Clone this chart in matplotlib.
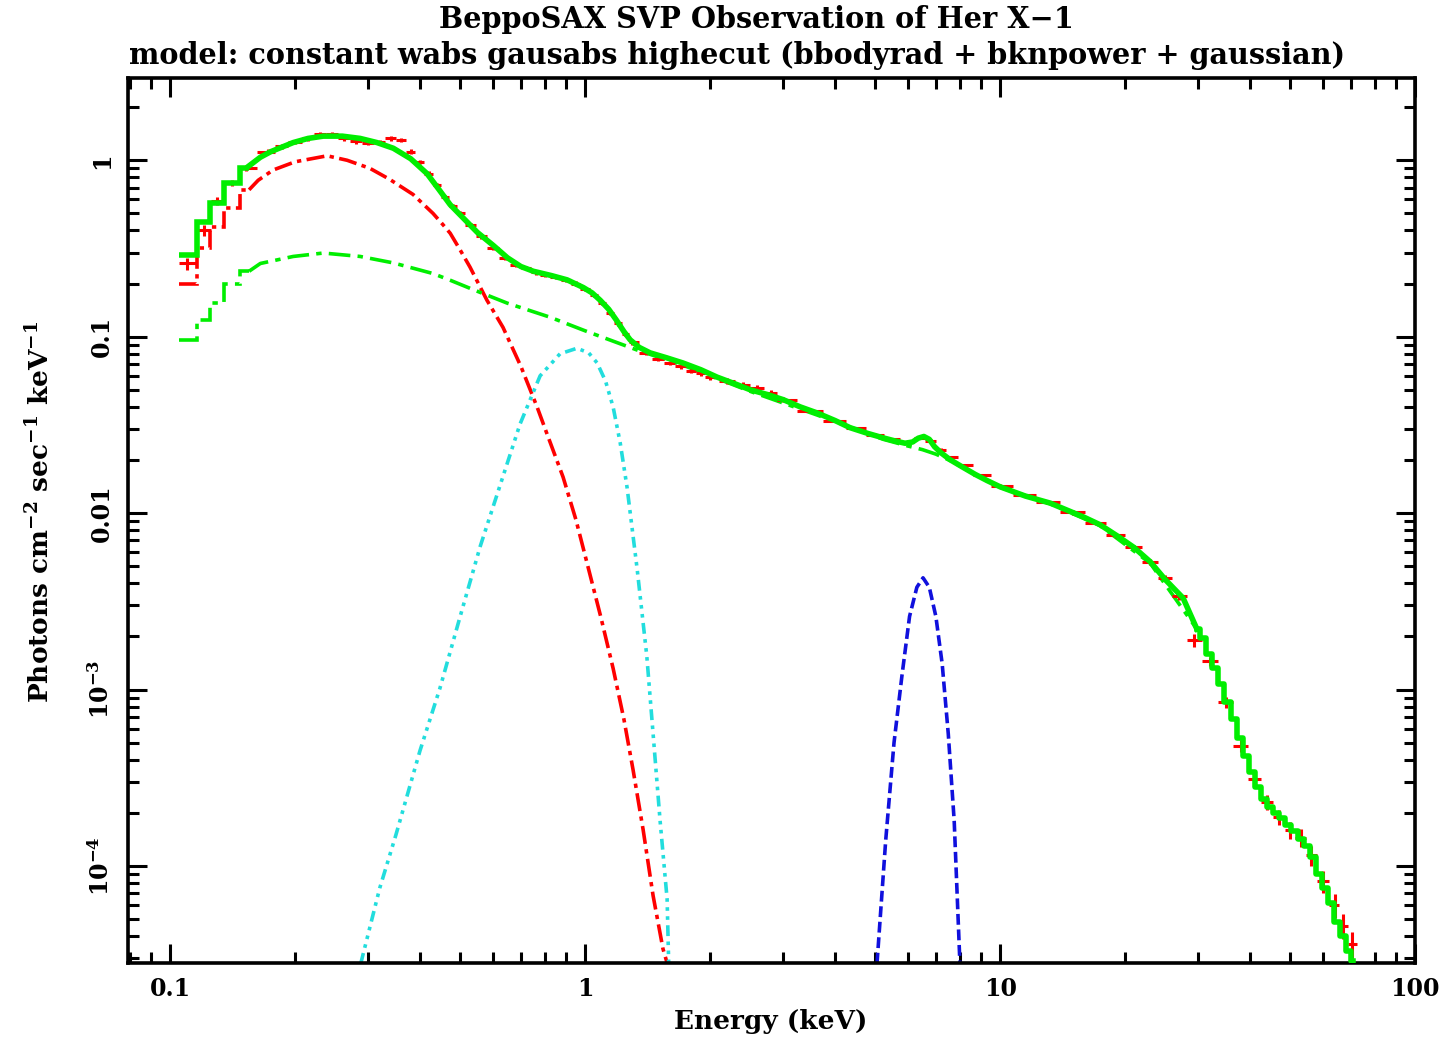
"""Recreate the XSPEC unfolded spectrum plot of Her X-1 (BeppoSAX SVP)."""
import numpy as np
import matplotlib
matplotlib.use("Agg")  # headless
import matplotlib.pyplot as plt
from matplotlib.ticker import FixedLocator, FixedFormatter, LogLocator, NullFormatter

# ──────────────────────────────────────────────────────────────────────────────
# Values (keV, photons cm^-2 s^-1 keV^-1)
# ──────────────────────────────────────────────────────────────────────────────

# coarse low-energy (LECS) bins, drawn as histogram steps
lecs_edges = [0.105, 0.116, 0.125, 0.135, 0.147, 0.155]
model_lecs = [0.29, 0.445, 0.57, 0.74, 0.90]
bb_lecs = [0.20, 0.317, 0.42, 0.535, 0.68]
pl_lecs = [0.096, 0.124, 0.155, 0.20, 0.235]

# total model (green, solid), finely binned middle part
model_e = [0.155, 0.165, 0.175, 0.198, 0.215, 0.234, 0.26, 0.287, 0.315, 0.345,
           0.38, 0.416, 0.445, 0.473, 0.50, 0.55, 0.60, 0.65, 0.70, 0.75,
           0.83, 0.905, 0.99, 1.04, 1.087, 1.14, 1.19, 1.24, 1.284, 1.35,
           1.434, 1.57, 1.72, 1.9, 2.08, 2.3, 2.5, 2.75, 3.0, 3.3,
           3.62, 4.0, 4.35, 4.8, 5.23, 5.6, 5.9, 6.15, 6.35, 6.55,
           6.75, 6.95, 7.2, 7.57, 8.1, 8.7, 9.3, 10.0, 11.5, 13.2,
           15.9, 17.4, 19.2, 21.0, 23.0, 25.0, 27.6, 29.8]
model_f = [0.93, 1.04, 1.12, 1.26, 1.33, 1.37, 1.37, 1.33, 1.26, 1.17,
           1.02, 0.84, 0.68, 0.56, 0.49, 0.39, 0.33, 0.28, 0.25, 0.235,
           0.222, 0.21, 0.19, 0.177, 0.161, 0.143, 0.124, 0.107, 0.096, 0.087,
           0.081, 0.076, 0.071, 0.065, 0.059, 0.054, 0.050, 0.047, 0.044, 0.040,
           0.037, 0.0335, 0.0305, 0.0283, 0.0267, 0.0256, 0.0249, 0.0253, 0.0266, 0.0272,
           0.0262, 0.0238, 0.0220, 0.0201, 0.0183, 0.0166, 0.0153, 0.0141, 0.0125, 0.0114,
           0.0095, 0.0086, 0.0074, 0.0064, 0.0053, 0.0042, 0.0033, 0.0022]

# total model in the PDS band (drawn as steps)
pds_e = [29.8, 30.8, 31.9, 33.0, 34.1, 35.3, 36.5, 37.8, 39.1, 40.4,
         41.8, 43.2, 44.7, 46.2, 47.8, 49.5, 51.2, 53.0, 54.8, 56.7,
         58.6, 60.6, 62.7, 64.9, 67.1, 69.4, 71.0]
pds_f = [0.00220, 0.00195, 0.00160, 0.00133, 0.00108, 0.00085, 0.00068, 0.00053, 0.00042, 0.00034,
         0.00028, 0.00024, 0.000215, 0.000200, 0.000188, 0.000170, 0.000157, 0.000143, 0.000130, 0.000112,
         0.000090, 0.000075, 0.000062, 0.000048, 0.000040, 0.000033, 0.000029]

# bbodyrad component (red, dashed)
bb_e = [0.155, 0.163, 0.177, 0.200, 0.239, 0.267, 0.303, 0.338, 0.385, 0.43,
        0.455, 0.473, 0.50, 0.528, 0.58, 0.634, 0.70, 0.766, 0.81, 0.885,
        0.95, 1.011, 1.09, 1.168, 1.24, 1.305, 1.38, 1.458, 1.54, 1.60]
bb_f = [0.68, 0.77, 0.88, 0.98, 1.06, 1.00, 0.90, 0.78, 0.64, 0.50,
        0.43, 0.386, 0.31, 0.248, 0.161, 0.113, 0.068, 0.040, 0.028, 0.0160,
        0.0092, 0.0052, 0.0026, 0.00132, 0.00068, 0.00035, 0.00016, 0.000068, 0.000034, 0.000025]

# bknpower component (green, dash-dot)
pl_e = [0.155, 0.165, 0.198, 0.234, 0.287, 0.345, 0.43, 0.473, 0.537, 0.649,
        0.823, 1.0, 1.335, 1.72, 2.5, 3.62, 5.23, 6.0, 6.5, 7.0,
        7.57, 8.7, 10.0, 13.2, 17.4, 23.0, 29.8]
pl_f = [0.235, 0.26, 0.285, 0.298, 0.285, 0.262, 0.228, 0.209, 0.185, 0.155,
        0.129, 0.108, 0.084, 0.069, 0.049, 0.036, 0.0262, 0.0240, 0.0229, 0.0216,
        0.0199, 0.0166, 0.0140, 0.0113, 0.0085, 0.0052, 0.0022]

# 1 keV line (cyan, dash-dot-dot-dot)
g1_e = [0.288, 0.32, 0.35, 0.40, 0.447, 0.50, 0.559, 0.624, 0.697, 0.779,
        0.87, 0.956, 1.02, 1.069, 1.12, 1.168, 1.215, 1.262, 1.335, 1.408,
        1.461, 1.516, 1.576, 1.59]
g1_f = [2.8e-5, 7.5e-5, 1.5e-4, 4.5e-4, 1.02e-3, 2.6e-3, 6.5e-3, 0.0144, 0.032, 0.060,
        0.080, 0.086, 0.081, 0.071, 0.056, 0.040, 0.025, 0.014, 0.0048, 0.00155,
        5.3e-4, 1.8e-4, 6.5e-5, 2.8e-5]

# iron line (blue, dashed)
fe_e = [5.05, 5.3, 5.55, 5.8, 6.05, 6.3, 6.52, 6.75, 7.0, 7.25, 7.5, 7.75, 8.0]
fe_f = [2.8e-5, 1.4e-4, 5.0e-4, 1.2e-3, 2.6e-3, 3.8e-3, 4.3e-3, 3.8e-3, 2.6e-3, 1.4e-3,
        5.6e-4, 1.8e-4, 2.8e-5]

# unfolded data (red crosses)
data_e = [0.110, 0.121, 0.130, 0.141, 0.152, 0.172, 0.186, 0.200, 0.215, 0.230,
          0.245, 0.262, 0.280, 0.300, 0.320, 0.340, 0.360, 0.380, 0.400, 0.420,
          0.440, 0.460, 0.480, 0.500, 0.530, 0.560, 0.600, 0.640, 0.680, 0.720,
          0.760, 0.800, 0.850, 0.900, 0.950, 1.00, 1.05, 1.10, 1.15, 1.20,
          1.25, 1.30, 1.40, 1.50, 1.60, 1.70, 1.80, 1.90, 2.00, 2.20,
          2.40, 2.60, 2.80, 3.00, 3.50, 4.00, 4.50, 5.00, 5.50, 6.00,
          6.40, 6.80, 7.20, 7.60, 8.20, 9.00, 10.0, 11.5, 13.0, 15.0,
          17.0, 19.0, 21.0, 23.0, 25.0, 27.0, 29.3, 32.0, 35.0, 38.0,
          41.0, 44.0, 47.0, 50.0, 53.0, 56.0, 60.0, 64.0, 67.0, 70.5]
data_f = [0.26, 0.40, 0.59, 0.74, 0.90, 1.12, 1.20, 1.27, 1.33, 1.41,
          1.40, 1.33, 1.28, 1.25, 1.27, 1.33, 1.30, 1.12, 0.98, 0.84,
          0.72, 0.62, 0.55, 0.50, 0.43, 0.37, 0.32, 0.28, 0.255, 0.245,
          0.232, 0.225, 0.218, 0.210, 0.200, 0.186, 0.172, 0.155, 0.136, 0.119,
          0.104, 0.093, 0.081, 0.075, 0.071, 0.068, 0.064, 0.062, 0.059, 0.056,
          0.053, 0.051, 0.048, 0.044, 0.038, 0.0335, 0.0302, 0.0278, 0.0262, 0.0254,
          0.0268, 0.0258, 0.0228, 0.0207, 0.0187, 0.0164, 0.0143, 0.0126, 0.0115, 0.0101,
          0.0088, 0.0075, 0.0064, 0.0053, 0.0043, 0.0034, 0.0019, 0.00145, 0.00085, 0.00048,
          0.00031, 0.00023, 0.00019, 0.000160, 0.000145, 0.000115, 0.000082, 0.000060, 0.000046, 0.000036]
data_relerr = [0.08, 0.07, 0.05, 0.04, 0.04, 0.03, 0.03, 0.03, 0.03, 0.03,
               0.03, 0.03, 0.03, 0.03, 0.03, 0.03, 0.03, 0.03, 0.03, 0.03,
               0.03, 0.03, 0.03, 0.03, 0.03, 0.03, 0.03, 0.03, 0.03, 0.03,
               0.03, 0.03, 0.03, 0.03, 0.03, 0.03, 0.03, 0.03, 0.03, 0.03,
               0.03, 0.03, 0.03, 0.03, 0.03, 0.03, 0.03, 0.03, 0.04, 0.04,
               0.04, 0.04, 0.04, 0.03, 0.02, 0.02, 0.02, 0.02, 0.02, 0.02,
               0.02, 0.02, 0.02, 0.02, 0.02, 0.02, 0.02, 0.02, 0.02, 0.03,
               0.03, 0.03, 0.03, 0.04, 0.04, 0.05, 0.08, 0.06, 0.07, 0.08,
               0.09, 0.10, 0.10, 0.11, 0.12, 0.13, 0.14, 0.15, 0.16, 0.18]

x_ticks = [0.1, 1, 10, 100]
x_labels = ["0.1", "1", "10", "100"]
y_ticks = [1e-4, 1e-3, 1e-2, 1e-1, 1]
y_labels = [r"$10^{-4}$", r"$10^{-3}$", "0.01", "0.1", "1"]

TITLE_1 = "BeppoSAX SVP Observation of Her X\u22121"
TITLE_2 = "model: constant wabs gausabs highecut (bbodyrad + bknpower + gaussian)"

RED = "red"
GREEN = "#00ee00"
CYAN = "#22dddd"
BLUE = "#1010dd"


# ──────────────────────────────────────────────────────────────────────────────
# Helpers
# ──────────────────────────────────────────────────────────────────────────────

def _half_bins(e):
    e = np.asarray(e)
    edges = np.sqrt(e[:-1] * e[1:])
    lo = np.concatenate([[e[0] ** 2 / edges[0]], edges])
    hi = np.concatenate([edges, [e[-1] ** 2 / edges[-1]]])
    return e - lo, hi - e


# ──────────────────────────────────────────────────────────────────────────────
# Plot
# ──────────────────────────────────────────────────────────────────────────────

plt.rcParams["font.family"] = "DejaVu Serif"
plt.rcParams["font.weight"] = "bold"
plt.rcParams["mathtext.fontset"] = "dejavuserif"
plt.rcParams["mathtext.default"] = "bf"

fig = plt.figure(figsize=(14.47, 10.42), dpi=100)
ax = fig.add_axes([0.0885, 0.0758, 0.8895, 0.8492])
ax.set_xscale("log")
ax.set_yscale("log")

# bbodyrad
bb_style = dict(color=RED, lw=2.6, ls=(0, (5, 1.5, 1.2, 1.5)), zorder=2)
ax.stairs(bb_lecs, lecs_edges, baseline=None, **bb_style)
ax.plot(bb_e, bb_f, **bb_style)

# bknpower
pl_style = dict(color=GREEN, lw=2.6, ls=(0, (6, 2, 1.5, 2)), zorder=2)
ax.stairs(pl_lecs, lecs_edges, baseline=None, **pl_style)
ax.plot(pl_e, pl_f, **pl_style)

# lines
ax.plot(g1_e, g1_f, color=CYAN, lw=2.6,
        ls=(0, (3, 1.5, 1, 1.5, 1, 1.5, 1, 1.5)), zorder=2)
ax.plot(fe_e, fe_f, color=BLUE, lw=2.6, ls=(0, (3, 1.3)), zorder=2)

# data
de = np.asarray(data_e)
df = np.asarray(data_f)
xlo, xhi = _half_bins(de)
yerr = df * np.asarray(data_relerr)
ax.errorbar(de, df, xerr=[xlo, xhi], yerr=yerr, fmt="none",
            ecolor=RED, elinewidth=2.2, capsize=0, zorder=3)

# total model on top
tot_style = dict(color=GREEN, lw=4.0, zorder=4)
ax.stairs(model_lecs, lecs_edges, baseline=None, **tot_style)
ax.plot(model_e, model_f, solid_joinstyle="round", **tot_style)
ax.plot(pds_e, pds_f, drawstyle="steps-mid", **tot_style)

ax.set_xlim(0.0792, 100)
ax.set_ylim(2.82e-5, 2.92)

ax.xaxis.set_major_locator(FixedLocator(x_ticks))
ax.xaxis.set_major_formatter(FixedFormatter(x_labels))
ax.xaxis.set_minor_locator(LogLocator(base=10, subs=np.arange(2, 10)))
ax.xaxis.set_minor_formatter(NullFormatter())
ax.yaxis.set_major_locator(FixedLocator(y_ticks))
ax.yaxis.set_major_formatter(FixedFormatter(y_labels))
ax.yaxis.set_minor_locator(LogLocator(base=10, subs=np.arange(2, 10)))
ax.yaxis.set_minor_formatter(NullFormatter())

ax.tick_params(which="both", direction="in", top=True, right=True, width=2.2,
               color="black", labelsize=17)
ax.tick_params(which="major", length=14)
ax.tick_params(which="minor", length=8)
ax.tick_params(axis="x", pad=10)
ax.tick_params(axis="y", pad=10)
for lab in ax.get_yticklabels():
    lab.set_rotation(90)
    lab.set_va("center")
    lab.set_fontweight("bold")
for lab in ax.get_xticklabels():
    lab.set_fontweight("bold")

for sp in ax.spines.values():
    sp.set_linewidth(2.6)

fig.text(756 / 1447, 1 - 20 / 1042, TITLE_1, ha="center", va="center",
         fontsize=20.7, fontweight="bold")
fig.text(737 / 1447, 1 - 56 / 1042, TITLE_2, ha="center", va="center",
         fontsize=20.7, fontweight="bold")
fig.text(771 / 1447, 1 - 1022 / 1042, "Energy (keV)", ha="center", va="center",
         fontsize=19, fontweight="bold")
fig.text(40 / 1447, 1 - 512 / 1042,
         r"Photons cm$^{-2}$ sec$^{-1}$ keV$^{-1}$",
         ha="center", va="center", rotation=90, fontsize=19, fontweight="bold")

fig.savefig("out.png", dpi=100)
